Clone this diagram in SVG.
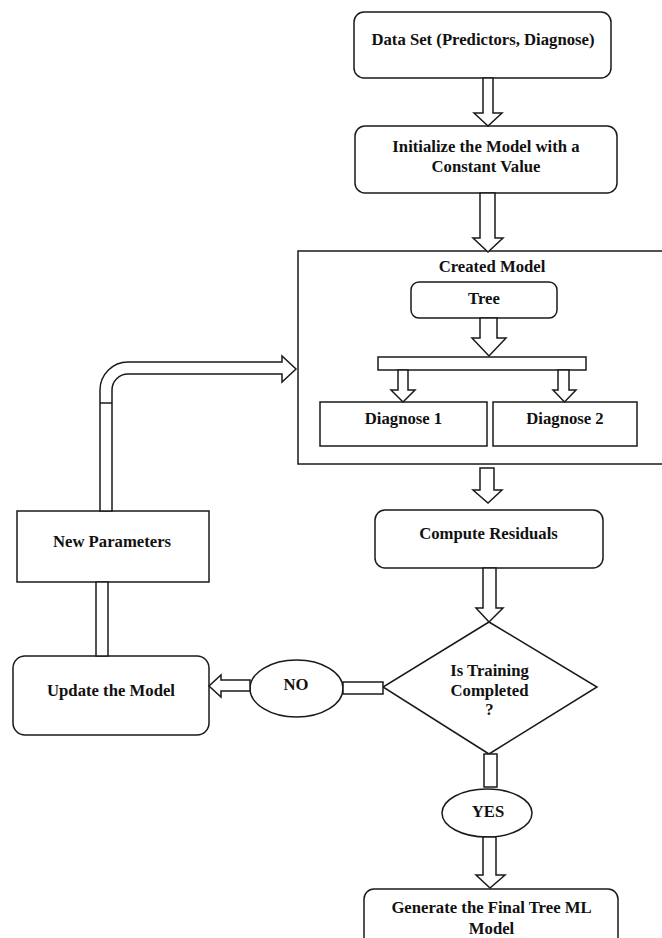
<svg xmlns="http://www.w3.org/2000/svg" width="662" height="938" viewBox="0 0 662 938">
<style>
.b{fill:#fff;stroke:#1a1a1a;stroke-width:1.5}
.a{fill:#fff;stroke:#1a1a1a;stroke-width:1.5;stroke-linejoin:miter}
.t{font-family:"Liberation Serif","Times New Roman",serif;font-weight:bold;font-size:16.7px;fill:#111;text-anchor:middle}
</style>
<rect width="662" height="938" fill="#fff"/>
<g id="created-model">
<rect class="b" x="298" y="251" width="370" height="213"/>
<text class="t" x="492" y="272">Created Model</text>
</g>
<g id="data-set">
<rect class="b" x="354" y="12" width="257" height="66" rx="10"/>
<text class="t" x="483" y="45">Data Set (Predictors, Diagnose)</text>
</g>
<g id="initialize">
<rect class="b" x="355" y="126" width="262" height="67" rx="10"/>
<text class="t" x="486" y="152">Initialize the Model with a</text>
<text class="t" x="486" y="172">Constant Value</text>
</g>
<g id="tree">
<rect class="b" x="411" y="282" width="146" height="36" rx="8"/>
<text class="t" x="484" y="304">Tree</text>
</g>
<g id="split-bar">
<rect class="b" x="378" y="357" width="208" height="13"/>
</g>
<g id="diagnose1">
<rect class="b" x="320" y="402" width="167" height="44"/>
<text class="t" x="403.5" y="424">Diagnose 1</text>
</g>
<g id="diagnose2">
<rect class="b" x="493" y="402" width="144" height="44"/>
<text class="t" x="565" y="424">Diagnose 2</text>
</g>
<g id="compute">
<rect class="b" x="375" y="510" width="228" height="58" rx="10"/>
<text class="t" x="488.5" y="539">Compute Residuals</text>
</g>
<g id="decision">
<polygon class="b" points="489,622 597,687 489,754 383,687"/>
<text class="t" x="489.5" y="676">Is Training</text>
<text class="t" x="489.5" y="696">Completed</text>
<text class="t" x="489.5" y="715">?</text>
</g>
<g id="no">
<ellipse class="b" cx="296.5" cy="688.5" rx="46.5" ry="28.5"/>
<text class="t" x="296" y="690">NO</text>
</g>
<g id="yes">
<ellipse class="b" cx="487" cy="813" rx="45" ry="24"/>
<text class="t" x="488" y="817">YES</text>
</g>
<g id="update">
<rect class="b" x="13" y="656" width="196" height="79" rx="12"/>
<text class="t" x="111" y="696">Update the Model</text>
</g>
<g id="new-parameters">
<rect class="b" x="17" y="511" width="192" height="71"/>
<text class="t" x="112" y="547">New Parameters</text>
</g>
<g id="final">
<rect class="b" x="364" y="889" width="254" height="70" rx="10"/>
<text class="t" x="491.5" y="913">Generate the Final Tree ML</text>
<text class="t" x="491.5" y="934">Model</text>
</g>
<g id="connectors">
<polygon class="a" points="483,78 493,78 493,113 502,113 488,126 474,113 483,113"/>
<polygon class="a" points="480,193 495,193 495,238 503,238 488,252 473,238 480,238"/>
<polygon class="a" points="480,318 497,318 497,338 506,338 489,356 472,338 480,338"/>
<polygon class="a" points="398,370 408,370 408,390 415,390 403,402 391,390 398,390"/>
<polygon class="a" points="558,370 569,370 569,390 576,390 564.5,402 553,390 558,390"/>
<polygon class="a" points="480,468 494,468 494,490 502,490 488,503 473,490 480,490"/>
<polygon class="a" points="483,568 496,568 496,608 503,608 489,622 476,608 483,608"/>
<rect class="a" x="343" y="682" width="40" height="12"/>
<polygon class="a" points="250,680 221,680 221,675 209,686 221,697 221,691 250,691"/>
<rect class="a" x="96" y="582" width="12" height="74"/>
<path class="a" d="M100,511 L100,390 A28,28 0 0 1 128,362 L282,362 L282,356 L296,369 L282,382 L282,374 L128,374 A16,16 0 0 0 112,390 L112,511 Z"/>
<line x1="100" y1="403" x2="112" y2="403" stroke="#1a1a1a" stroke-width="1.5"/>
<rect class="a" x="484" y="754" width="13" height="33"/>
<polygon class="a" points="483,837 496,837 496,875 505,875 490,888 476,875 483,875"/>
</g>
</svg>
